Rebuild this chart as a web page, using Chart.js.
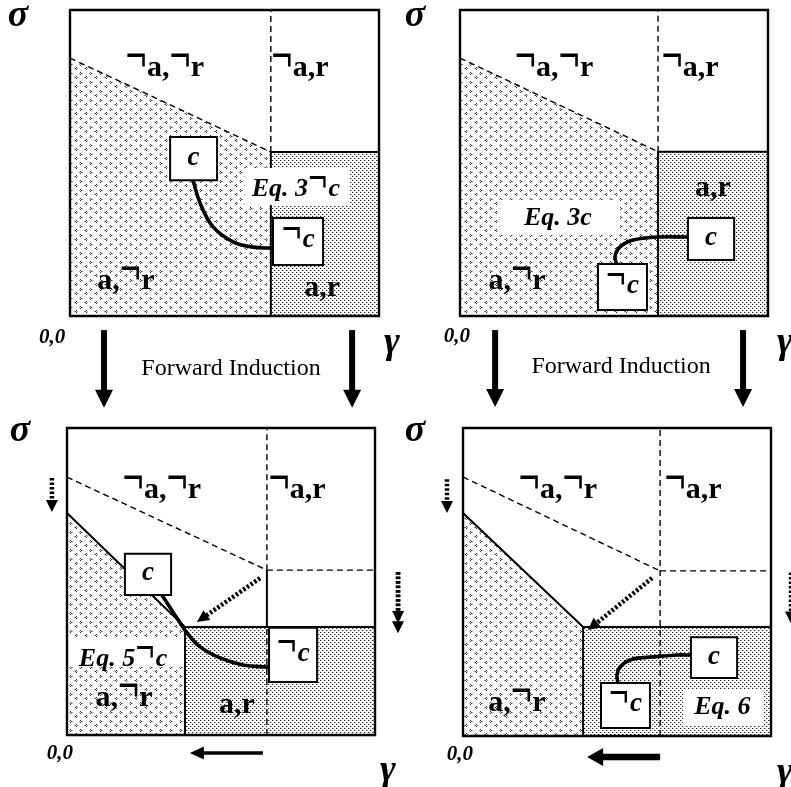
<!DOCTYPE html>
<html><head><meta charset="utf-8">
<script src="https://cdn.jsdelivr.net/npm/chart.js@4/dist/chart.umd.min.js"></script>
<style>
html,body{margin:0;padding:0;background:#fff;}
#wrap{position:relative;width:791px;height:787px;overflow:hidden;background:#fff;}
#wrap canvas{position:absolute;left:0;top:0;}
</style></head><body>
<div id="wrap">
<canvas id="p1" width="791" height="787"></canvas>
<canvas id="p2" width="791" height="787"></canvas>
<canvas id="p3" width="791" height="787"></canvas>
<canvas id="p4" width="791" height="787"></canvas>
</div>
<script>
// ======== DATA (unit coordinates in every panel: gamma 0..1 across, sigma 0..1 up) ========
// ---- Panel 1 (top left) ----
const p1ShadeA = [[0,0.843],[0.65,0.536]];
const p1ShadeB = [[0.65,0.536],[1,0.536]];
const p1Dashed = [[[0,0.843],[0.65,0.536]], [[0.65,0.536],[0.65,1]]];
const p1Solid  = [[[0.65,0],[0.65,0.536],[1,0.536]]];
const p1WhiteBg = [[0.566,0.906,0.363,0.484]];
const p1EqText = [['Eq. 3¬c',0.731,0.418]];
const p1Boxes = [[0.324,0.476,0.444,0.585,'c'],[0.657,0.819,0.167,0.32,'¬c']];
const p1Curve = [[0.398,0.444],[0.421,0.369],[0.463,0.291],[0.528,0.242],[0.592,0.225],[0.657,0.222]];
const p1Labels = [['¬a,¬r',0.307,0.82],['¬a,r',0.744,0.82],['a,¬r',0.181,0.124],['a,r',0.816,0.092]];
const p1Arrows = [[0.11,-0.046,0.11,-0.30,'solid'],[0.913,-0.046,0.913,-0.30,'solid']];
const p1Axis = [['σ',-0.168,0.974],['0,0',-0.058,-0.065],['γ',1.042,-0.095]];
const p1Caption = [['Forward Induction',0.521,-0.167]];

// ---- Panel 2 (top right) ----
const p2ShadeA = [[0,0.843],[0.643,0.537]];
const p2ShadeB = [[0.643,0.537],[1,0.537]];
const p2Dashed = [[[0,0.843],[0.643,0.537]], [[0.643,0.537],[0.643,1]]];
const p2Solid  = [[[0.643,0],[0.643,0.537],[1,0.537]]];
const p2WhiteBg = [[0.13,0.52,0.265,0.379]];
const p2EqText = [['Eq. 3c',0.318,0.324]];
const p2Boxes = [[0.74,0.89,0.183,0.32,'c'],[0.448,0.607,0.02,0.17,'¬c']];
const p2Curve = [[0.510,0.167],[0.503,0.193],[0.519,0.225],[0.562,0.248],[0.640,0.258],[0.740,0.258]];
const p2Labels = [['¬a,¬r',0.305,0.82],['¬a,r',0.747,0.82],['a,¬r',0.185,0.124],['a,r',0.821,0.42]];
const p2Arrows = [[0.114,-0.046,0.114,-0.297,'solid'],[0.919,-0.046,0.919,-0.297,'solid']];
const p2Axis = [['σ',-0.146,0.974],['0,0',-0.01,-0.062],['γ',1.055,-0.095]];
const p2Caption = [['Forward Induction',0.523,-0.16]];

// ---- Panel 3 (bottom left) ----
const p3ShadeA = [[0,0.723],[0.383,0.352]];
const p3ShadeB = [[0.383,0.352],[1,0.352]];
const p3Dashed = [[[0,0.840],[0.649,0.537]], [[0.649,0.537],[0.649,1]], [[0.649,0.537],[1,0.537]], [[0.649,0],[0.649,0.352]]];
const p3Solid  = [[[0,0.723],[0.383,0.352],[1,0.352]], [[0.383,0],[0.383,0.352]], [[0.649,0.352],[0.649,0.537]]];
const p3WhiteBg = [[0.003,0.38,0.222,0.316]];
const p3EqText = [['Eq. 5¬c',0.182,0.251]];
const p3Boxes = [[0.188,0.338,0.456,0.59,'c'],[0.656,0.812,0.173,0.349,'¬c']];
const p3Curve = [[0.308,0.456],[0.325,0.430],[0.357,0.381],[0.390,0.332],[0.432,0.287],[0.497,0.251],[0.571,0.228],[0.653,0.221]];
const p3Labels = [['¬a,¬r',0.308,0.808],['¬a,r',0.747,0.808],['a,¬r',0.185,0.130],['a,r',0.552,0.098]];
const p3Arrows = [[-0.049,0.837,-0.049,0.726,'dotted'],[1.075,0.531,1.075,0.365,'dotted'],[0.627,0.511,0.422,0.368,'dotted'],[0.636,-0.059,0.399,-0.059,'thin']];
const p3Axis = [['σ',-0.153,0.984],['0,0',-0.023,-0.055],['γ',1.042,-0.124]];
const p3Caption = [];

// ---- Panel 4 (bottom right) ----
const p4ShadeA = [[0,0.724],[0.39,0.354]];
const p4ShadeB = [[0.39,0.354],[1,0.354]];
const p4Dashed = [[[0,0.841],[0.640,0.536]], [[0.640,0],[0.640,1]], [[0.640,0.536],[1,0.536]]];
const p4Solid  = [[[0,0.724],[0.39,0.354],[1,0.354]], [[0.39,0],[0.39,0.354]]];
const p4WhiteBg = [[0.714,0.974,0.036,0.149]];
const p4EqText = [['Eq. 6',0.842,0.10]];
const p4Boxes = [[0.740,0.890,0.188,0.321,'c'],[0.448,0.607,0.026,0.172,'¬c']];
const p4Curve = [[0.503,0.172],[0.500,0.198],[0.510,0.224],[0.542,0.247],[0.607,0.256],[0.695,0.263],[0.740,0.263]];
const p4Labels = [['¬a,¬r',0.308,0.808],['¬a,r',0.747,0.808],['a,¬r',0.175,0.117]];
const p4Arrows = [[-0.052,0.834,-0.052,0.724,'dotted'],[-0.211,0.532,-0.211,0.334,'dotted'],[1.065,0.531,1.065,0.365,'dotted'],[0.614,0.513,0.406,0.344,'dotted'],[0.640,-0.068,0.403,-0.068,'bold']];
const p4Axis = [['σ',-0.156,0.984],['0,0',-0.01,-0.055],['γ',1.045,-0.127]];
const p4Caption = [];

// ======== LAYOUT (chart-area pixel bounds of each panel on the page) ========
const PAGE_W = 791, PAGE_H = 787;
const layoutAreas = { p1:[70,10,379,316], p2:[460,10,768,316], p3:[67,428,375,735], p4:[463,428,771,736] };

const SERIF = '"Liberation Serif","Times New Roman",serif';

// ======== PATTERNS ========
function chevronPattern(){
  const c = document.createElement('canvas'); c.width = 10; c.height = 9;
  const g = c.getContext('2d');
  g.fillStyle = '#fff'; g.fillRect(0,0,10,9);
  const mark = (x,y,dir) => {
    g.fillStyle = '#2e2e2e';
    if (dir > 0) { g.fillRect(x,y,1,1); g.fillRect(x+1,y+1,1,1); g.fillRect(x,y+2,1,1); }
    else { g.fillRect(x+1,y,1,1); g.fillRect(x,y+1,1,1); g.fillRect(x+1,y+2,1,1); }
    g.fillStyle = '#9a9a9a';
    if (dir > 0) { g.fillRect(x+2, y+1, 1, 1); g.fillRect(x-1 < 0 ? 9 : x-1, y+1, 1, 1); }
    else { g.fillRect(x+2, y+1, 1, 1); g.fillRect(x-1, y+1, 1, 1); }
  };
  mark(0,0,1); mark(5,4,-1);
  return g.createPattern(c,'repeat');
}
function dotPattern(){
  const c = document.createElement('canvas'); c.width = 4; c.height = 4;
  const g = c.getContext('2d');
  g.fillStyle = '#fff'; g.fillRect(0,0,4,4);
  g.fillStyle = '#2a2a2a'; g.fillRect(0,0,1,1); g.fillRect(2,2,1,1);
  g.fillStyle = '#b4b4b4'; g.fillRect(1,0,1,1); g.fillRect(3,2,1,1);
  return g.createPattern(c,'repeat');
}
const PAT_A = chevronPattern();
const PAT_B = dotPattern();

// ======== HELPERS ========
function pts(arr){ return arr.map(p => ({x:p[0], y:p[1]})); }
function line(arr, style){
  return Object.assign({data: pts(arr), pointRadius:0, pointHoverRadius:0, borderColor:'#000', borderWidth:1.5,
    fill:false, tension:0, clip:false, borderCapStyle:'butt', borderJoinStyle:'miter'}, style);
}

function buildDatasets(S){
  const ds = [];
  ds.push(line(S.shadeA, {borderWidth:0, borderColor:'rgba(0,0,0,0)', fill:'origin', backgroundColor:PAT_A}));
  ds.push(line(S.shadeB, {borderWidth:0, borderColor:'rgba(0,0,0,0)', fill:'origin', backgroundColor:PAT_B}));
  S.dashed.forEach(d => ds.push(line(d, {borderWidth:1.4, borderDash:[6,4]})));
  S.solid.forEach(d => ds.push(line(d, {borderWidth:2})));
  S.whiteBg.forEach(b => ds.push(line([[b[0],b[3]],[b[1],b[3]]], {borderWidth:0, borderColor:'rgba(0,0,0,0)', fill:{value:b[2]}, backgroundColor:'#fff'})));
  ds.push(line(S.curve, {borderWidth:3.6, tension:0.4, borderCapStyle:'round'}));
  S.boxes.forEach(b => {
    ds.push(line([[b[0],b[3]],[b[1],b[3]]], {borderWidth:0, borderColor:'rgba(0,0,0,0)', fill:{value:b[2]}, backgroundColor:'#fff'}));
    ds.push(line([[b[0],b[2]],[b[0],b[3]],[b[1],b[3]],[b[1],b[2]],[b[0],b[2]]], {borderWidth:2, borderCapStyle:'square'}));
  });
  ds.push(line([[0,0],[0,1],[1,1],[1,0],[0,0]], {borderWidth:2.4, borderCapStyle:'square'}));
  ds.forEach((d,i) => d.order = -i);
  return ds;
}

// text with the negation sign drawn wider and raised, as in the original typesetting
function drawRich(ctx, text, x, cy, style, size, offs, sx){
  ctx.font = style + ' ' + size + 'px ' + SERIF;
  ctx.textAlign = 'left'; ctx.textBaseline = 'alphabetic';
  const SX = sx || 1.3, SY = 1.6, DY = -0.16*size;
  const chars = [...text];
  const ws = chars.map(ch => ctx.measureText(ch).width * (ch === '¬' ? SX : 1));
  const total = ws.reduce((a,b)=>a+b,0);
  let cx = x - total/2;
  const base = cy + offs*size;
  chars.forEach((ch,i) => {
    if (ch === '¬') {
      ctx.save(); ctx.translate(cx, base + DY); ctx.scale(SX, SY); ctx.fillText(ch, 0, 0); ctx.restore();
    } else ctx.fillText(ch, cx, base);
    cx += ws[i];
  });
}

const ARROW_STYLE = {
  solid: {w:6, hw:18, hl:18, dash:[]},
  thin:  {w:3.5, hw:13, hl:14, dash:[]},
  bold:  {w:6.5, hw:18, hl:16, dash:[]},
  dotted:{w:4.5, hw:12, hl:12, dash:[2.5,2]}
};
function drawArrow(ctx, x1,y1,x2,y2, kind){
  const s = ARROW_STYLE[kind];
  const a = Math.atan2(y2-y1, x2-x1), c = Math.cos(a), sn = Math.sin(a);
  const bx = x2 - c*s.hl, by = y2 - sn*s.hl;
  ctx.save();
  ctx.strokeStyle = '#000'; ctx.fillStyle = '#000';
  ctx.lineWidth = s.w; ctx.setLineDash(s.dash); ctx.lineCap = 'butt';
  ctx.beginPath(); ctx.moveTo(x1,y1); ctx.lineTo(bx + c, by + sn); ctx.stroke();
  ctx.setLineDash([]);
  ctx.beginPath(); ctx.moveTo(x2,y2);
  ctx.lineTo(bx - sn*s.hw/2, by + c*s.hw/2);
  ctx.lineTo(bx + sn*s.hw/2, by - c*s.hw/2);
  ctx.closePath(); ctx.fill();
  ctx.restore();
}

const specs = {
  p1:{shadeA:p1ShadeA, shadeB:p1ShadeB, dashed:p1Dashed, solid:p1Solid, whiteBg:p1WhiteBg, eq:p1EqText, boxes:p1Boxes, curve:p1Curve, labels:p1Labels, arrows:p1Arrows, axis:p1Axis, caption:p1Caption},
  p2:{shadeA:p2ShadeA, shadeB:p2ShadeB, dashed:p2Dashed, solid:p2Solid, whiteBg:p2WhiteBg, eq:p2EqText, boxes:p2Boxes, curve:p2Curve, labels:p2Labels, arrows:p2Arrows, axis:p2Axis, caption:p2Caption},
  p3:{shadeA:p3ShadeA, shadeB:p3ShadeB, dashed:p3Dashed, solid:p3Solid, whiteBg:p3WhiteBg, eq:p3EqText, boxes:p3Boxes, curve:p3Curve, labels:p3Labels, arrows:p3Arrows, axis:p3Axis, caption:p3Caption},
  p4:{shadeA:p4ShadeA, shadeB:p4ShadeB, dashed:p4Dashed, solid:p4Solid, whiteBg:p4WhiteBg, eq:p4EqText, boxes:p4Boxes, curve:p4Curve, labels:p4Labels, arrows:p4Arrows, axis:p4Axis, caption:p4Caption}
};

const diagramText = {
  id:'diagramText',
  afterDatasetsDraw(chart){
    const S = specs[chart.canvas.id];
    const ctx = chart.ctx, xs = chart.scales.x, ys = chart.scales.y;
    const px = u => xs.getPixelForValue(u), py = v => ys.getPixelForValue(v);
    ctx.save();
    ctx.fillStyle = '#000';
    S.arrows.forEach(a => drawArrow(ctx, px(a[0]), py(a[1]), px(a[2]), py(a[3]), a[4]));
    S.labels.forEach(l => drawRich(ctx, l[0], px(l[1]), py(l[2]), 'bold', 30, l[0].includes('¬') ? 0.36 : 0.28, 1.25));
    S.eq.forEach(l => drawRich(ctx, l[0], px(l[1]), py(l[2]), 'italic bold', 26, 0.32, 1.3));
    S.boxes.forEach(b => drawRich(ctx, b[4], px((b[0]+b[1])/2), py((b[2]+b[3])/2), 'italic bold', 27, 0.22, 1.3));
    S.axis.forEach(l => {
      const big = l[0] !== '0,0';
      drawRich(ctx, l[0], px(l[1]), py(l[2]), 'italic bold', big ? 38 : 21, big ? 0.2 : 0.35);
    });
    S.caption.forEach(l => drawRich(ctx, l[0], px(l[1]), py(l[2]), 'normal', 24, 0.33));
    ctx.restore();
  }
};

Object.keys(specs).forEach(id => {
  const A = layoutAreas[id];
  new Chart(document.getElementById(id), {
    type:'line',
    data:{datasets: buildDatasets(specs[id])},
    options:{
      responsive:false, animation:false, events:[],
      layout:{padding:{left:A[0], top:A[1], right:PAGE_W-A[2], bottom:PAGE_H-A[3]}},
      scales:{
        x:{type:'linear', min:0, max:1, display:false},
        y:{type:'linear', min:0, max:1, display:false}
      },
      plugins:{legend:{display:false}, tooltip:{enabled:false}, title:{display:false}}
    },
    plugins:[diagramText]
  });
});
</script>
</body></html>
